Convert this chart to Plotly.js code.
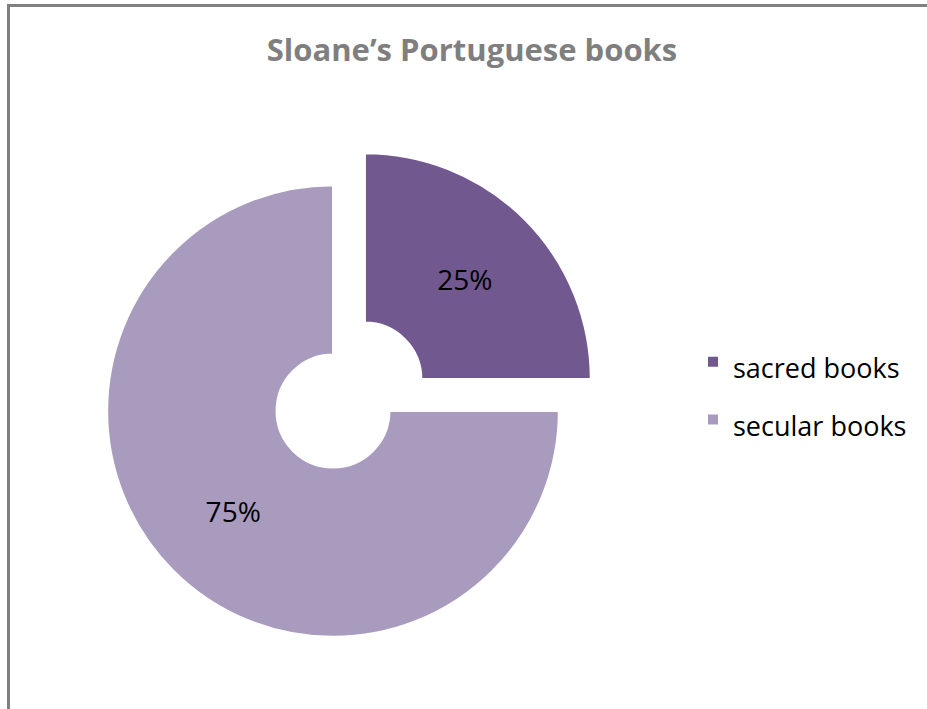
<!DOCTYPE html>
<html>
<head>
<meta charset="utf-8">
<script src="https://cdn.plot.ly/plotly-3.0.1.min.js"></script>
<style>html,body{margin:0;padding:0;background:#fff;}#chart{width:927px;height:709px;}</style>
</head>
<body>
<div id="chart"></div>
<script>
var titleText = "Sloane’s Portuguese books";
var categories = ["sacred books", "secular books"];
var values = [25, 75];
var sliceColors = ["#71588f", "#a99bbd"];
var pulls = [0.2, 0];

var W = 927, H = 709;
// legend text drawn at 27px while the legend line height follows a larger base font (wider row spacing as in the reference)
var legendLabels = categories.map(function (c) {
  return '<span style="font-size:27px">' + c + '</span>';
});

var trace = {
  type: "pie",
  labels: legendLabels,
  values: values,
  pull: pulls,
  hole: 0.25,
  sort: false,
  direction: "clockwise",
  rotation: 0,
  marker: {colors: sliceColors, line: {color: "#ffffff", width: 2}},
  textinfo: "percent",
  textposition: "inside",
  insidetextorientation: "horizontal",
  textfont: {family: "Open Sans, sans-serif", size: 28, color: "#000000"},
  domain: {x: [62 / W, 604 / W], y: [27 / H, 569 / H]},
  hoverinfo: "label+percent"
};

var layout = {
  width: W, height: H,
  margin: {l: 0, r: 0, t: 0, b: 0},
  paper_bgcolor: "#ffffff",
  title: {
    text: "<b>" + titleText + "</b>",
    font: {family: "Open Sans, sans-serif", size: 31, color: "#7f7f7f"},
    x: 472 / W, xanchor: "center", xref: "paper",
    y: 1 - 50 / H, yanchor: "middle", yref: "container"
  },
  showlegend: true,
  legend: {
    x: 693 / W, xanchor: "left",
    y: 1 - 391 / H, yanchor: "middle",
    font: {family: "Open Sans, sans-serif", size: 42, color: "#000000"},
    bgcolor: "rgba(0,0,0,0)"
  },
  shapes: [
    {type: "line", xref: "paper", yref: "paper", x0: 7 / W, x1: 1, y0: 1 - 5.5 / H, y1: 1 - 5.5 / H, line: {color: "#808080", width: 3}},
    {type: "line", xref: "paper", yref: "paper", x0: 8.5 / W, x1: 8.5 / W, y0: 1 - 4 / H, y1: 0, line: {color: "#808080", width: 3}}
  ]
};

Plotly.newPlot("chart", [trace], layout, {displayModeBar: false, staticPlot: true});
</script>
</body>
</html>
